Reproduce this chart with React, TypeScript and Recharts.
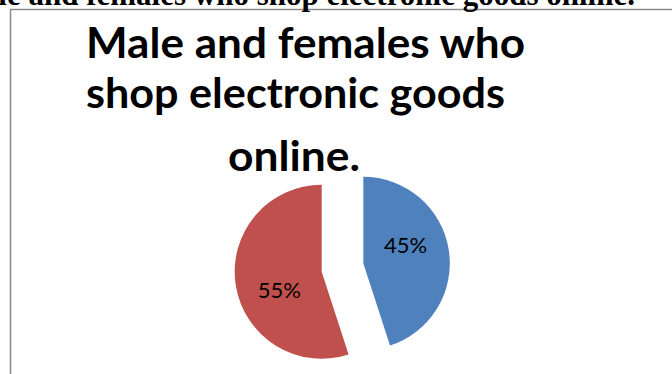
import React from 'react';
import { PieChart, Pie, Cell } from 'recharts';

const categories = ['Female', 'Male'];
const values = [45, 55];
const colors = ['#4F81BD', '#C0504D'];
const titleLines = ['Male and females who', 'shop electronic goods', 'online.'];
const headerText = 'Male and females who shop electronic goods online.';

const data = categories.map((name, i) => ({ name, value: values[i] }));

const RAD = Math.PI / 180;

const makeLabel = (visibleIndex: number) => (props: any) => {
  const { cx, cy, midAngle, outerRadius, percent, index } = props;
  if (index !== visibleIndex) return null;
  const a = (midAngle + 14) * RAD;
  const r = outerRadius * 0.53;
  const x = cx + r * Math.cos(a);
  const y = cy - r * Math.sin(a);
  return (
    <text
      x={x}
      y={y + 7.8}
      textAnchor="middle"
      fill="#000"
      fontFamily="Lato, 'Noto Sans', sans-serif"
      fontSize={22}
    >
      {`${Math.round(percent * 100)}%`}
    </text>
  );
};

const titleStyle = {
  fontFamily: 'Lato, sans-serif',
  fontWeight: 'bold' as const,
  fontSize: 42,
  fill: '#000',
};

export default function App() {
  return (
    <div style={{ position: 'absolute', left: 0, top: 0, width: 672, height: 374, background: '#fff' }}>
      <svg width={672} height={374} style={{ position: 'absolute', left: 0, top: 0 }}>
        <rect x={10.5} y={9.5} width={700} height={400} fill="#fff" stroke="#8a8a8a" strokeWidth={1.5} />
        <text
          x={635}
          y={4.5}
          textAnchor="end"
          fontFamily="'Liberation Serif', 'Times New Roman', serif"
          fontWeight="bold"
          fontSize={31}
          fill="#000"
        >
          {headerText}
        </text>
        <text x={86} y={58} textLength={439} lengthAdjust="spacingAndGlyphs" {...titleStyle}>
          {titleLines[0]}
        </text>
        <text x={86} y={108} textLength={419} lengthAdjust="spacingAndGlyphs" {...titleStyle}>
          {titleLines[1]}
        </text>
        <text x={228} y={171} textLength={132} lengthAdjust="spacingAndGlyphs" {...titleStyle}>
          {titleLines[2]}
        </text>
      </svg>
      <div style={{ position: 'absolute', left: 0, top: 0 }}>
        <PieChart width={672} height={374} margin={{ top: 0, right: 0, bottom: 0, left: 0 }}>
          <Pie
            data={data}
            dataKey="value"
            nameKey="name"
            cx={363.3}
            cy={263.3}
            outerRadius={86.5}
            startAngle={90}
            endAngle={-270}
            stroke="none"
            label={makeLabel(0)}
            labelLine={false}
            isAnimationActive={false}
          >
            {data.map((d, i) => (
              <Cell key={d.name} fill={i === 0 ? colors[0] : 'transparent'} />
            ))}
          </Pie>
          <Pie
            data={data}
            dataKey="value"
            nameKey="name"
            cx={321.7}
            cy={271.7}
            outerRadius={87}
            startAngle={90}
            endAngle={-270}
            stroke="none"
            label={makeLabel(1)}
            labelLine={false}
            isAnimationActive={false}
          >
            {data.map((d, i) => (
              <Cell key={d.name} fill={i === 1 ? colors[1] : 'transparent'} />
            ))}
          </Pie>
        </PieChart>
      </div>
    </div>
  );
}
